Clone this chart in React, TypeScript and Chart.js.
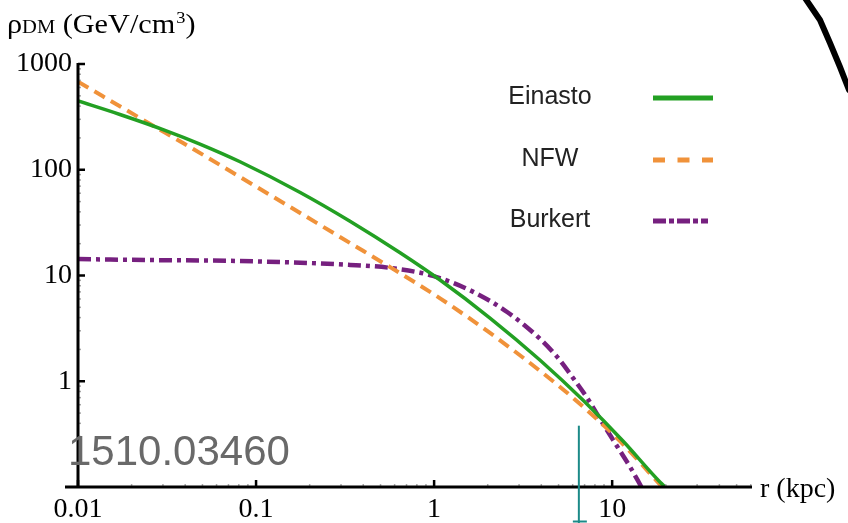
import { useEffect, useRef } from "react";
import { Chart, registerables } from "chart.js";

Chart.register(...registerables);

// ---- data (r in kpc, rho in GeV/cm^3) ----
const seriesNames = ["Einasto", "NFW", "Burkert"];

const einastoR = [0.01, 0.0172, 0.0308, 0.0484, 0.0813, 0.177, 0.337, 0.644, 1.08, 2.06, 3.94, 6.87, 11.5, 18.6, 19.9];
const einastoRho = [447, 333, 236, 175, 119, 61, 32.6, 16.4, 9.06, 3.96, 1.58, 0.66, 0.272, 0.111, 0.1];

const nfwR = [0.01, 0.0254, 0.0389, 0.0925, 0.22, 0.337, 0.566, 1.08, 2.06, 3.94, 6.36, 11.1, 19.1];
const nfwRho = [680, 271, 179, 75, 31.3, 20.3, 12.0, 6.08, 2.86, 1.25, 0.644, 0.27, 0.1];

const burkertR = [0.01, 0.0254, 0.0813, 0.337, 0.566, 0.986, 1.66, 2.57, 3.94, 4.91, 6.04, 7.24, 8.9, 10.7, 12.6, 14.6];
const burkertRho = [14.3, 14.0, 13.7, 12.6, 11.8, 9.9, 7.0, 4.52, 2.51, 1.70, 1.07, 0.695, 0.394, 0.24, 0.155, 0.1];

const xTickValues = [0.01, 0.1, 1, 10];
const xTickLabels = ["0.01", "0.1", "1", "10"];
const yTickValues = [1, 10, 100, 1000];
const yTickLabels = ["1", "10", "100", "1000"];

const xMin = 0.01;
const xMax = 61;
const yMin = 0.1;
const yMax = 1000;

const watermark = "1510.03460";
const markerR = 6.5;
const markerTopRho = 0.38;

const COLORS = ["#23a023", "#f0923a", "#76207f"];
const DASHES: number[][] = [[], [12, 7], [13, 5, 4, 5]];
const WIDTHS = [3.5, 4, 4.5];
const LEGEND_DASHES: number[][] = [[], [12, 12.5], [13, 3, 5, 3]];

const SERIF = "'Liberation Serif', 'Times New Roman', serif";
const SANS = "'Liberation Sans', Arial, Helvetica, sans-serif";

const toPoints = (rs: number[], vs: number[]) => rs.map((r, i) => ({ x: r, y: vs[i] }));

const decorPlugin = {
  id: "decor",
  afterDraw(chart: any) {
    const ctx: CanvasRenderingContext2D = chart.ctx;
    const { left, right, top, bottom } = chart.chartArea;
    const xs = chart.scales.x;
    const ys = chart.scales.y;
    ctx.save();

    // minor ticks
    ctx.strokeStyle = "#a8a8a8";
    ctx.lineWidth = 1.5;
    for (let e = -2; e <= 1; e++) {
      for (let k = 2; k <= 9; k++) {
        const v = k * Math.pow(10, e);
        if (v > xMax) continue;
        const px = xs.getPixelForValue(v);
        ctx.beginPath();
        ctx.moveTo(px, bottom);
        ctx.lineTo(px, bottom - 3);
        ctx.stroke();
      }
    }
    for (let e = -1; e <= 2; e++) {
      for (let k = 2; k <= 9; k++) {
        const v = k * Math.pow(10, e);
        if (v > yMax) continue;
        const py = ys.getPixelForValue(v);
        ctx.beginPath();
        ctx.moveTo(left, py);
        ctx.lineTo(left + 3, py);
        ctx.stroke();
      }
    }

    // axes lines
    ctx.strokeStyle = "#000";
    ctx.lineWidth = 3;
    ctx.beginPath();
    ctx.moveTo(left, top - 1);
    ctx.lineTo(left, bottom);
    ctx.stroke();
    ctx.beginPath();
    ctx.moveTo(left - 13, bottom);
    ctx.lineTo(right, bottom);
    ctx.stroke();

    // major ticks
    ctx.lineWidth = 2.5;
    xTickValues.forEach((v) => {
      const px = xs.getPixelForValue(v);
      ctx.beginPath();
      ctx.moveTo(px, bottom);
      ctx.lineTo(px, bottom - 7);
      ctx.stroke();
    });
    yTickValues.forEach((v) => {
      const py = ys.getPixelForValue(v);
      ctx.beginPath();
      ctx.moveTo(left, py);
      ctx.lineTo(left + 7, py);
      ctx.stroke();
    });

    // y axis title: rho_DM (GeV/cm^3)
    ctx.save();
    ctx.translate(7, 0);
    ctx.scale(1.08, 1);
    ctx.fillStyle = "#000";
    ctx.textAlign = "left";
    ctx.textBaseline = "alphabetic";
    let tx = 0;
    const by = 33;
    ctx.font = `28px ${SERIF}`;
    ctx.fillText("ρ", tx, by);
    tx += ctx.measureText("ρ").width;
    ctx.font = `19px ${SERIF}`;
    ctx.fillText("DM", tx, by);
    tx += ctx.measureText("DM").width;
    ctx.font = `28px ${SERIF}`;
    ctx.fillText(" (GeV/cm", tx, by);
    tx += ctx.measureText(" (GeV/cm").width;
    ctx.font = `17px ${SERIF}`;
    ctx.fillText("3", tx + 1, by - 10);
    tx += ctx.measureText("3").width + 1;
    ctx.font = `28px ${SERIF}`;
    ctx.fillText(")", tx, by);
    ctx.restore();

    // x axis title
    ctx.fillStyle = "#000";
    ctx.textAlign = "left";
    ctx.textBaseline = "alphabetic";
    ctx.font = `28px ${SERIF}`;
    ctx.fillText("r (kpc)", right + 8, bottom + 10);

    // legend
    const rows = [97, 159, 220];
    seriesNames.forEach((name, i) => {
      ctx.font = `25px ${SANS}`;
      ctx.fillStyle = "#222";
      ctx.textAlign = "center";
      ctx.textBaseline = "middle";
      ctx.fillText(name, 550, rows[i]);
      ctx.strokeStyle = COLORS[i];
      ctx.lineWidth = 5;
      ctx.setLineDash(LEGEND_DASHES[i]);
      ctx.beginPath();
      ctx.moveTo(653, rows[i] + 1);
      ctx.lineTo(i === 2 ? 708 : 713, rows[i] + 1);
      ctx.stroke();
      ctx.setLineDash([]);
    });

    // watermark text
    ctx.font = `42px ${SANS}`;
    ctx.fillStyle = "#696969";
    ctx.textAlign = "left";
    ctx.textBaseline = "alphabetic";
    ctx.fillText(watermark, 68, 465);

    // teal marker line
    const mx = xs.getPixelForValue(markerR);
    const mt = ys.getPixelForValue(markerTopRho);
    ctx.strokeStyle = "#1c8a88";
    ctx.lineWidth = 2;
    ctx.beginPath();
    ctx.moveTo(mx, mt);
    ctx.lineTo(mx, chart.height);
    ctx.stroke();
    ctx.beginPath();
    ctx.moveTo(mx - 6, chart.height - 1.5);
    ctx.lineTo(mx + 8, chart.height - 1.5);
    ctx.stroke();

    // black stroke at top right
    ctx.strokeStyle = "#000";
    ctx.lineWidth = 6;
    ctx.lineCap = "round";
    ctx.beginPath();
    ctx.moveTo(805, -2);
    ctx.lineTo(820, 20);
    ctx.lineTo(830, 43);
    ctx.lineTo(840, 67);
    ctx.lineTo(849, 90);
    ctx.stroke();

    ctx.restore();
  },
};

export default function App() {
  const canvasRef = useRef<HTMLCanvasElement | null>(null);

  useEffect(() => {
    document.body.style.margin = "0";
    const canvas = canvasRef.current;
    if (!canvas) return;

    const datasets = [
      toPoints(einastoR, einastoRho),
      toPoints(nfwR, nfwRho),
      toPoints(burkertR, burkertRho),
    ].map((pts, i) => ({
      label: seriesNames[i],
      data: pts,
      borderColor: COLORS[i],
      backgroundColor: COLORS[i],
      borderWidth: WIDTHS[i],
      borderDash: DASHES[i],
      pointRadius: 0,
      fill: false,
      cubicInterpolationMode: "monotone" as const,
    }));

    const chart = new Chart(canvas, {
      type: "line",
      data: { datasets },
      options: {
        animation: false,
        responsive: false,
        events: [],
        layout: { padding: { left: 0, top: 64, right: 96, bottom: 0 } },
        plugins: {
          legend: { display: false },
          tooltip: { enabled: false },
          title: { display: false },
        },
        scales: {
          x: {
            type: "logarithmic",
            position: "bottom",
            min: xMin,
            max: xMax,
            grid: { display: false, drawTicks: false },
            border: { display: false },
            afterBuildTicks: (scale: any) => {
              scale.ticks = xTickValues.map((v) => ({ value: v }));
            },
            afterFit: (scale: any) => {
              scale.height = 36;
            },
            ticks: {
              autoSkip: false,
              maxRotation: 0,
              padding: 6,
              color: "#000",
              font: { family: SERIF, size: 28 },
              callback: (_v: any, i: number) => xTickLabels[i],
            },
          },
          y: {
            type: "logarithmic",
            position: "left",
            min: yMin,
            max: yMax,
            grid: { display: false, drawTicks: false },
            border: { display: false },
            afterBuildTicks: (scale: any) => {
              scale.ticks = yTickValues.map((v) => ({ value: v }));
            },
            afterFit: (scale: any) => {
              scale.width = 78;
            },
            ticks: {
              autoSkip: false,
              padding: 6,
              color: "#000",
              font: { family: SERIF, size: 28 },
              callback: (_v: any, i: number) => yTickLabels[i],
            },
          },
        },
      },
      plugins: [decorPlugin],
    } as any);

    return () => chart.destroy();
  }, []);

  return (
    <div style={{ width: 848, height: 523, background: "#fff" }}>
      <canvas ref={canvasRef} width={848} height={523} style={{ display: "block" }} />
    </div>
  );
}
